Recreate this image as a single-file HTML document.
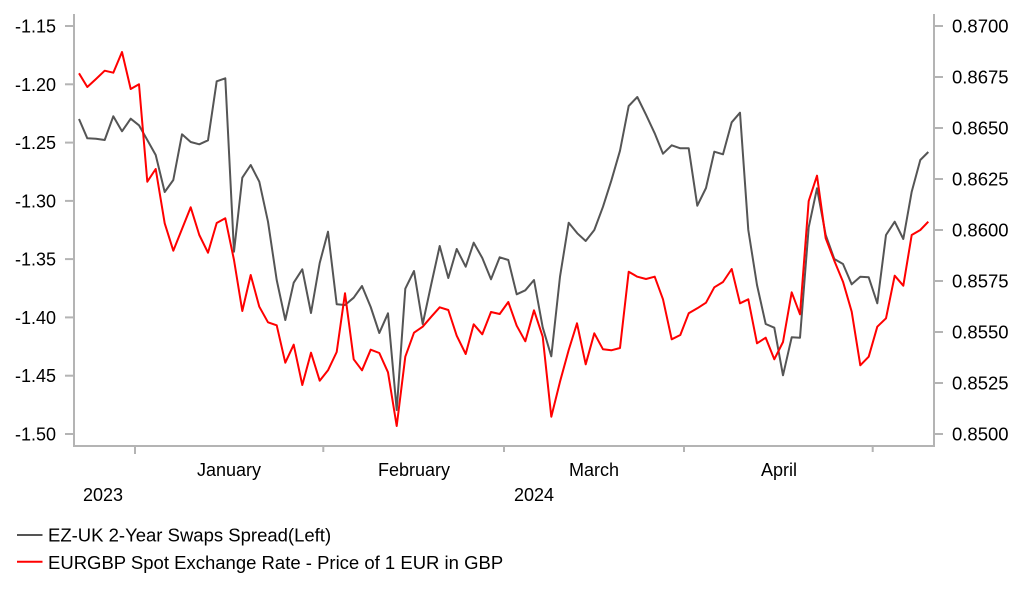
<!DOCTYPE html>
<html>
<head>
<meta charset="utf-8">
<style>
html,body{margin:0;padding:0;background:#fff;}
svg{display:block;}
text{font-family:"Liberation Sans",Arial,sans-serif;font-size:18px;fill:#000;}
.big{font-size:18.5px;}
</style>
</head>
<body>
<svg width="1022" height="597" viewBox="0 0 1022 597" xmlns="http://www.w3.org/2000/svg">
<rect width="1022" height="597" fill="#fff"/>
<g stroke="#b4b4b4" stroke-width="2" fill="none">
  <line x1="74" y1="14" x2="74" y2="446"/>
  <line x1="934" y1="14" x2="934" y2="446"/>
  <line x1="73" y1="446" x2="935" y2="446"/>
  <line x1="65" y1="26" x2="74" y2="26"/>
  <line x1="65" y1="84.3" x2="74" y2="84.3"/>
  <line x1="65" y1="142.6" x2="74" y2="142.6"/>
  <line x1="65" y1="200.9" x2="74" y2="200.9"/>
  <line x1="65" y1="259.1" x2="74" y2="259.1"/>
  <line x1="65" y1="317.4" x2="74" y2="317.4"/>
  <line x1="65" y1="375.7" x2="74" y2="375.7"/>
  <line x1="65" y1="434" x2="74" y2="434"/>
  <line x1="934" y1="26" x2="943" y2="26"/>
  <line x1="934" y1="77" x2="943" y2="77"/>
  <line x1="934" y1="128" x2="943" y2="128"/>
  <line x1="934" y1="179" x2="943" y2="179"/>
  <line x1="934" y1="230" x2="943" y2="230"/>
  <line x1="934" y1="281" x2="943" y2="281"/>
  <line x1="934" y1="332" x2="943" y2="332"/>
  <line x1="934" y1="383" x2="943" y2="383"/>
  <line x1="934" y1="434" x2="943" y2="434"/>
  <line x1="135" y1="446" x2="135" y2="454"/>
  <line x1="323.3" y1="446" x2="323.3" y2="452"/>
  <line x1="504" y1="446" x2="504" y2="452"/>
  <line x1="684" y1="446" x2="684" y2="452"/>
  <line x1="872.7" y1="446" x2="872.7" y2="452"/>
</g>
<g text-anchor="end">
  <text x="56" y="32.5">-1.15</text>
  <text x="56" y="90.8">-1.20</text>
  <text x="56" y="149.1">-1.25</text>
  <text x="56" y="207.4">-1.30</text>
  <text x="56" y="265.6">-1.35</text>
  <text x="56" y="323.9">-1.40</text>
  <text x="56" y="382.2">-1.45</text>
  <text x="56" y="440.5">-1.50</text>
</g>
<g class="big">
  <text class="big" x="952" y="32.7">0.8700</text>
  <text class="big" x="952" y="83.7">0.8675</text>
  <text class="big" x="952" y="134.7">0.8650</text>
  <text class="big" x="952" y="185.7">0.8625</text>
  <text class="big" x="952" y="236.7">0.8600</text>
  <text class="big" x="952" y="287.7">0.8575</text>
  <text class="big" x="952" y="338.7">0.8550</text>
  <text class="big" x="952" y="389.7">0.8525</text>
  <text class="big" x="952" y="440.7">0.8500</text>
</g>
<g>
  <text x="197" y="476">January</text>
  <text x="378" y="476">February</text>
  <text x="569" y="476">March</text>
  <text x="761" y="476">April</text>
  <text x="83" y="501">2023</text>
  <text x="514" y="501">2024</text>
</g>
<polyline fill="none" stroke="#555555" stroke-width="2" stroke-linejoin="round" points="79,119 87.3,138.3 96,138.7 104.7,140 113.3,116.3 122,131.3 130.7,118.7 139,125.3 147.3,140 155.7,155 164.7,192 173.3,180 182,134.3 190.7,142 199.3,144.3 208,140.3 216.7,81.3 225.3,78.3 234,251.7 242.3,177.7 250.7,165 259.3,181.7 268,221.7 276.7,280 285.3,320 293.7,282.7 302.3,269.3 311,313 319.7,263 328,231.7 336.7,304.3 345,305 353.7,297.7 362,286 370.7,307 379.3,333 388,313.3 396.7,410 405.3,288.7 414,271 422.7,324 431.3,284 439.7,246 448.3,278 456.7,249 465.7,266.7 473.7,242.7 482.3,258 491,279.3 499.7,257.3 508.3,260 516.7,294.3 525.3,290.3 534,280 542.7,327.3 551.3,356.3 560,276.7 568.7,222.7 577.3,233.3 585.7,241 594.3,230 603,206.7 611.3,180.7 620,150.7 628.7,106 637.3,97 646,114.7 654.7,133.3 663,153.7 671.7,145.3 680.3,148.3 688.7,148.3 697.3,205.7 706,188 714.3,151.7 723,154.3 731.7,122.3 740,112.7 748.3,230 757,285 765.7,324 774.3,327.7 783,375.3 791.7,337.3 800,337.7 808.7,227.3 817,188.3 825.7,235 834.3,259 843,264 851.7,284.3 860.3,276.7 868.7,277.3 877.3,303.3 886,235 894.7,221.7 903.3,239 911.7,191.7 920.3,160 928.3,152"/>
<polyline fill="none" stroke="#ff0000" stroke-width="2" stroke-linejoin="round" points="79,73.3 87.3,87 96,79 104.7,70.7 113.3,72.7 122,52 130.7,89 139,84.3 147.3,181.7 155.7,169 164.7,223.3 173.3,250.7 182,229 190.7,207.3 199.3,235 208,252.7 216.7,223 225.3,218.3 234,260 242.3,311 250.7,275 259.3,306.7 268,322.3 276.7,325.3 285.3,362.7 293.7,344.7 302.3,385 311,352.7 319.7,380.7 328,370.3 336.7,352 345,293.3 353.7,359.3 362,370.3 370.7,349.7 379.3,353 388,372.3 396.7,426 405.3,356.7 414,332.7 422.7,326.7 431.3,316.7 439.7,307.3 448.3,310 456.7,335.7 465.7,354 473.7,324.3 482.3,334.3 491,312 499.7,314 508.3,302 516.7,325.7 525.3,341.3 534,310.3 542.7,336.7 551.3,416.7 560,381.7 568.7,350 577,323.3 585.7,364.3 594.3,333.3 603,349.3 611.3,350.3 620,348 628.7,271.7 637.3,276.7 646,279 654.7,276.7 663,299.3 671.7,339.3 680.3,335 688.7,313.3 697.3,308.3 706,302.7 714.3,287.3 723,282 731.7,269 740,303.3 748.3,299.3 757,343.3 765.7,337.7 774.3,359.3 783,342 791.7,292.3 800,314.3 808.7,201 817,175.7 825.7,238.3 834.3,260.7 843,281.7 851.7,311.7 860.3,365.3 868.7,356.7 877.3,326.7 886,318.3 894.7,275.7 903.3,285.7 911.7,235 920.3,230 928.3,221.7"/>
<line x1="17" y1="535" x2="42.5" y2="535" stroke="#555555" stroke-width="2"/>
<line x1="17" y1="561.7" x2="42.5" y2="561.7" stroke="#ff0000" stroke-width="2"/>
<text class="big" x="48" y="541.5">EZ-UK 2-Year Swaps Spread(Left)</text>
<text class="big" x="48" y="569">EURGBP Spot Exchange Rate - Price of 1 EUR in GBP</text>
</svg>
</body>
</html>
